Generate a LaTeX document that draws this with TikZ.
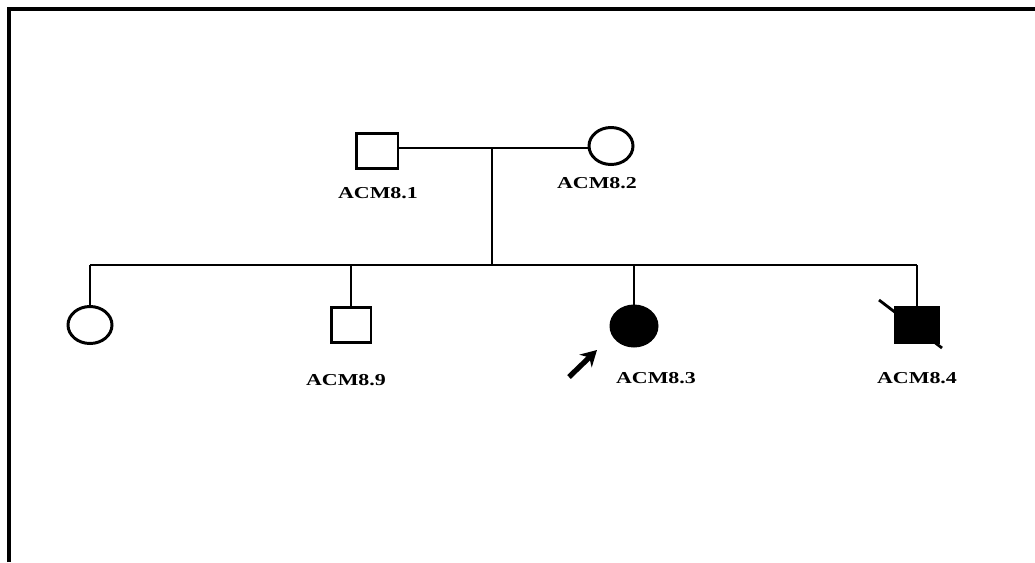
\documentclass[tikz,border=0pt]{standalone}
\usepackage{fontspec}
\setmainfont{Liberation Serif}
\usetikzlibrary{shapes.geometric, arrows.meta}

\tikzset{
  male/.style={draw, rectangle, line width=1.7pt, minimum width=0.8cm, minimum height=0.7cm, inner sep=0pt},
  female/.style={draw, ellipse, line width=1.7pt, minimum width=0.88cm, minimum height=0.74cm, inner sep=0pt},
  affected/.style={fill=black},
  lbl/.style={font=\bfseries\normalsize, inner sep=1pt, xscale=1.25, yscale=0.95, transform shape},
  link/.style={line width=1.2pt}
}

\begin{document}
\begin{tikzpicture}[>=stealth, x=0.02cm, y=-0.02cm]
    \useasboundingbox (0,0) rectangle (1035,562);
    % cadre
    \draw[line width=2.3pt] (9,562) -- (9,9) -- (1035,9);

    % parents
    \node[male, minimum width=0.84cm] (acm81) at (377,151) {};
    \node[female] (acm82) at (611,146) {};
    \node[lbl] at (378,193) {ACM8.1};
    \node[lbl] at (597,183) {ACM8.2};
    \coordinate (mate) at (492,148);
    \draw[link] (acm81.east |- mate) -- (acm82.west |- mate);

    % fratrie
    \coordinate (sibL) at (90,265);
    \coordinate (sibR) at (917,265);
    \coordinate (sibM) at (492,265);
    \draw[link] (mate) -- (sibM);
    \draw[link] (sibL) -- (sibR);

    % enfants
    \node[female] (c1) at (90,325) {};
    \node[male] (acm89) at (351,325) {};
    \node[female, affected, minimum width=0.92cm, minimum height=0.8cm] (acm83) at (634,326) {};
    \node[male, affected, minimum width=0.88cm] (acm84) at (917,325) {};
    \draw[link] (sibL) -- (c1);
    \draw[link] (acm89 |- sibL) -- (acm89);
    \draw[link] (acm83 |- sibL) -- (acm83);
    \draw[link] (acm84 |- sibL) -- (acm84);

    \node[lbl] at (346,380) {ACM8.9};
    \node[lbl] at (656,378) {ACM8.3};
    \node[lbl] at (917,378) {ACM8.4};

    % cas index
    \coordinate (probT) at (569,377);
    \coordinate (probH) at (597,350);
    \draw[-{Stealth[length=9pt,width=10pt]}, line width=3pt] (probT) -- (probH);

    % décédé
    \coordinate (deadA) at (879,300);
    \coordinate (deadB) at (942,348);
    \draw[line width=1.6pt] (deadA) -- (deadB);
\end{tikzpicture}
\end{document}
